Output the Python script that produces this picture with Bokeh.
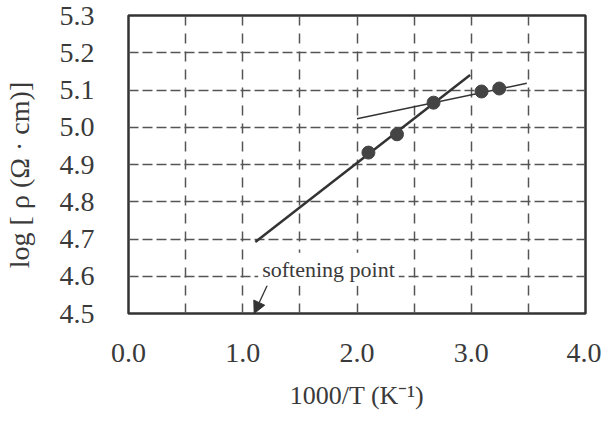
from bokeh.plotting import figure
from bokeh.models import FixedTicker, PrintfTickFormatter, Range1d, Arrow, NormalHead, Label
from bokeh.embed import file_html
from bokeh.resources import INLINE

# data
x_points = [2.10, 2.35, 2.67, 3.09, 3.245]
y_points = [4.932, 4.981, 5.066, 5.096, 5.104]
steep_x = [1.11, 2.99]
steep_y = [4.692, 5.140]
flat_x = [2.00, 3.486]
flat_y = [5.023, 5.118]
x_ticks = [0.0, 1.0, 2.0, 3.0, 4.0]
x_grid = [0.5, 1.0, 1.5, 2.0, 2.5, 3.0, 3.5]
y_ticks = [4.5, 4.6, 4.7, 4.8, 4.9, 5.0, 5.1, 5.2, 5.3]
arrow_from = (1.22, 4.579)
arrow_to = (1.10, 4.50)
note_text = "softening point"
note_pos = (1.135, 4.619)

INK = "#3a3a3a"
FONT = "Liberation Serif"

p = figure(width=601, height=414, output_backend="svg", toolbar_location=None,
           x_range=Range1d(0, 4), y_range=Range1d(4.5, 5.3),
           min_border_left=117, min_border_right=16, min_border_top=15, min_border_bottom=101)
p.background_fill_color = "white"
p.border_fill_color = "white"
p.outline_line_color = "#333333"
p.outline_line_width = 2.5

p.xaxis.ticker = FixedTicker(ticks=x_ticks)
p.yaxis.ticker = FixedTicker(ticks=y_ticks)
p.xaxis.formatter = PrintfTickFormatter(format="%.1f")
p.yaxis.formatter = PrintfTickFormatter(format="%.1f")
for ax in (p.xaxis, p.yaxis):
    ax.axis_line_color = None
    ax.major_tick_line_color = None
    ax.minor_tick_line_color = None
    ax.major_label_text_font = FONT
    ax.major_label_text_font_size = "28px"
    ax.major_label_text_color = INK
    ax.axis_label_text_font = FONT
    ax.axis_label_text_font_style = "normal"
    ax.axis_label_text_color = INK
p.xaxis.axis_label_text_font_size = "26px"
p.yaxis.axis_label_text_font_size = "28px"
p.xaxis.major_label_standoff = 24
p.yaxis.major_label_standoff = 28
p.xaxis.axis_label = "1000/T (K⁻¹)"
p.yaxis.axis_label = "log [  ρ   (Ω · cm)]"
p.xaxis.axis_label_standoff = 16
p.yaxis.axis_label_standoff = 22

p.xgrid.ticker = FixedTicker(ticks=x_grid)
p.ygrid.ticker = FixedTicker(ticks=y_ticks[1:-1])
p.xgrid.grid_line_color = "#555555"
p.xgrid.grid_line_width = 1.5
p.xgrid.grid_line_dash = "10 8"
p.ygrid.grid_line_color = "#555555"
p.ygrid.grid_line_width = 1.5
p.ygrid.grid_line_dash = "10 4"

p.line(steep_x, steep_y, line_color="#333333", line_width=2.5)
p.line(flat_x, flat_y, line_color="#333333", line_width=1.5)
p.scatter(x_points, y_points, size=13, fill_color="#444444", line_color="#444444")

p.add_layout(Arrow(end=NormalHead(size=12, fill_color="#333333", line_color="#333333"),
                   x_start=arrow_from[0], y_start=arrow_from[1],
                   x_end=arrow_to[0], y_end=arrow_to[1],
                   line_color="#333333", line_width=1.3))
p.add_layout(Label(x=note_pos[0], y=note_pos[1], text=note_text, text_font=FONT,
                   text_font_size="22px", text_color=INK, text_baseline="middle",
                   background_fill_color="white", padding=4))

open("out.html", "w").write(file_html(p, INLINE))
